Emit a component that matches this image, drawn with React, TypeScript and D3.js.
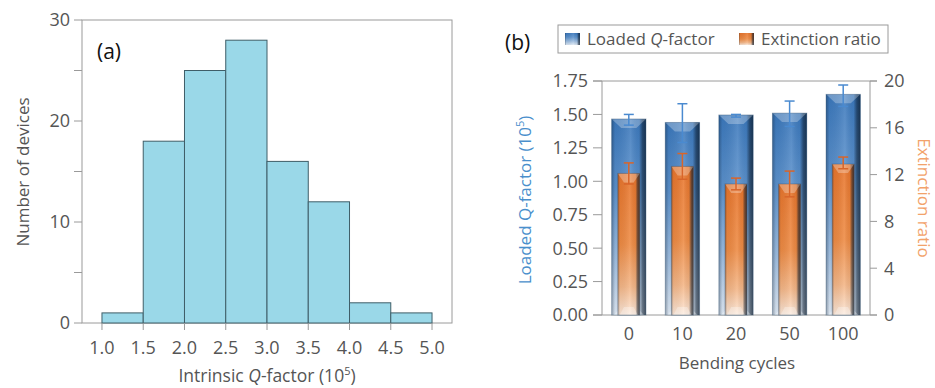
import React, { useRef, useEffect } from "react";
import * as d3 from "d3";

// panel (a): histogram of intrinsic Q-factor
const binEdges = [1.0, 1.5, 2.0, 2.5, 3.0, 3.5, 4.0, 4.5, 5.0];
const binCounts = [1, 18, 25, 28, 16, 12, 2, 1];
const histXTicks = [1.0, 1.5, 2.0, 2.5, 3.0, 3.5, 4.0, 4.5, 5.0];
const histYTicks = [0, 10, 20, 30];
const histYMinor = [5, 15, 25];

// panel (b): bending cycles
const cycles = ["0", "10", "20", "50", "100"];
const loadedQ = [1.466, 1.44, 1.496, 1.51, 1.65];
const loadedQLow = [1.42, 1.29, 1.48, 1.41, 1.56];
const loadedQHigh = [1.5, 1.58, 1.5, 1.6, 1.72];
const extRatio = [12.1, 12.7, 11.2, 11.2, 12.9];
const extRatioLow = [11.2, 11.6, 10.7, 10.1, 12.5];
const extRatioHigh = [13.0, 13.8, 11.7, 12.3, 13.5];
const leftTicks = [0, 0.25, 0.5, 0.75, 1.0, 1.25, 1.5, 1.75];
const rightTicks = [0, 4, 8, 12, 16, 20];

const FONT = "'Open Sans', 'Noto Sans', sans-serif";
const TICK_COLOR = "#555";
const AXIS_COLOR = "#9a9a9a";

const App = () => {
  const svgRef = useRef(null);

  useEffect(() => {
    const svg = d3.select(svgRef.current);
    svg.selectAll("*").remove();
    svg.attr("font-family", FONT);

    /*** gradients ***/
    const defs = svg.append("defs");
    const grad = (id, horizontal, stops) => {
      const g = defs.append("linearGradient").attr("id", id)
        .attr("x1", 0).attr("y1", 0)
        .attr("x2", horizontal ? 1 : 0).attr("y2", horizontal ? 0 : 1);
      stops.forEach(([o, c, op]) =>
        g.append("stop").attr("offset", o).attr("stop-color", c).attr("stop-opacity", op ?? 1));
    };
    grad("blueV", false, [[0, "#3a77bb"], [0.35, "#5a90cb"], [0.7, "#9dbde0"], [1, "#dfe9f4"]]);
    grad("orangeV", false, [[0, "#e8742a"], [0.5, "#ee8a42"], [0.8, "#f4b585"], [1, "#fbe6d6"]]);
    grad("edgeShade", true, [[0, "#0b1a2b", 0.35], [0.1, "#0b1a2b", 0.05], [0.55, "#ffffff", 0.12],
      [0.8, "#0b1a2b", 0.05], [0.9, "#0b1a2b", 0.55], [1, "#0b1a2b", 0.75]]);

    /*** PANEL (a) ***/
    const ax = d3.scaleLinear().domain([0.758, 5.242]).range([82, 452]);
    const ay = d3.scaleLinear().domain([0, 30]).range([323, 20]);
    const a = svg.append("g");

    a.append("rect")
      .attr("x", ax.range()[0]).attr("y", ay(30))
      .attr("width", ax.range()[1] - ax.range()[0]).attr("height", ay(0) - ay(30))
      .attr("fill", "none").attr("stroke", AXIS_COLOR).attr("stroke-width", 1);

    a.selectAll(".hbar")
      .data(binCounts)
      .enter()
      .append("rect")
      .attr("x", (d, i) => ax(binEdges[i]))
      .attr("y", (d) => ay(d))
      .attr("width", (d, i) => ax(binEdges[i + 1]) - ax(binEdges[i]))
      .attr("height", (d) => ay(0) - ay(d))
      .attr("fill", "#9ad8e8")
      .attr("stroke", "#3f5e68")
      .attr("stroke-width", 1);

    // x axis ticks
    a.selectAll(".xt")
      .data(histXTicks)
      .enter()
      .append("line")
      .attr("x1", (d) => ax(d)).attr("x2", (d) => ax(d))
      .attr("y1", ay(0)).attr("y2", ay(0) + 7)
      .attr("stroke", AXIS_COLOR);
    a.selectAll(".xl")
      .data(histXTicks)
      .enter()
      .append("text")
      .attr("x", (d) => ax(d)).attr("y", 354)
      .attr("text-anchor", "middle")
      .attr("font-size", 18).attr("fill", TICK_COLOR)
      .text((d) => d.toFixed(1));

    // y axis ticks
    a.selectAll(".yt")
      .data(histYTicks.concat(histYMinor))
      .enter()
      .append("line")
      .attr("x1", 74).attr("x2", ax.range()[0])
      .attr("y1", (d) => ay(d)).attr("y2", (d) => ay(d))
      .attr("stroke", AXIS_COLOR);
    a.selectAll(".yl")
      .data(histYTicks)
      .enter()
      .append("text")
      .attr("x", 70).attr("y", (d) => ay(d))
      .attr("dy", "0.36em")
      .attr("text-anchor", "end")
      .attr("font-size", 18).attr("fill", TICK_COLOR)
      .text((d) => d);

    a.append("text")
      .attr("transform", "translate(29,172) rotate(-90)")
      .attr("text-anchor", "middle")
      .attr("font-size", 17).attr("fill", TICK_COLOR)
      .text("Number of devices");

    const axTitle = a.append("text")
      .attr("x", 267).attr("y", 382)
      .attr("text-anchor", "middle")
      .attr("font-size", 17.5).attr("fill", TICK_COLOR);
    axTitle.append("tspan").text("Intrinsic ");
    axTitle.append("tspan").attr("font-style", "italic").text("Q");
    axTitle.append("tspan").text("-factor (10");
    axTitle.append("tspan").attr("font-size", 11).attr("dy", -7).text("5");
    axTitle.append("tspan").attr("dy", 7).text(")");

    a.append("text")
      .attr("x", 97).attr("y", 59)
      .attr("font-size", 21).attr("fill", "#111")
      .text("(a)");

    /*** PANEL (b) ***/
    const bx = d3.scaleBand().domain(cycles).range([602, 870]).paddingInner(0.36).paddingOuter(0.18);
    const yL = d3.scaleLinear().domain([0, 1.75]).range([315, 81]);
    const yR = d3.scaleLinear().domain([0, 20]).range([315, 81]);
    const b = svg.append("g");

    // frame
    b.append("line").attr("x1", 593).attr("x2", 877).attr("y1", yL(1.75)).attr("y2", yL(1.75)).attr("stroke", AXIS_COLOR);
    b.append("line").attr("x1", 593).attr("x2", 877).attr("y1", yL(0)).attr("y2", yL(0)).attr("stroke", AXIS_COLOR);
    b.append("line").attr("x1", 602).attr("x2", 602).attr("y1", yL(1.75)).attr("y2", yL(0)).attr("stroke", AXIS_COLOR);
    b.append("line").attr("x1", 870).attr("x2", 870).attr("y1", yL(1.75)).attr("y2", yL(0)).attr("stroke", AXIS_COLOR);

    b.selectAll(".lt")
      .data(leftTicks)
      .enter()
      .append("line")
      .attr("x1", 593).attr("x2", 602)
      .attr("y1", (d) => yL(d)).attr("y2", (d) => yL(d))
      .attr("stroke", AXIS_COLOR);
    b.selectAll(".ll")
      .data(leftTicks)
      .enter()
      .append("text")
      .attr("x", 588).attr("y", (d) => yL(d))
      .attr("dy", "0.36em").attr("text-anchor", "end")
      .attr("font-size", 18).attr("fill", TICK_COLOR)
      .text((d) => d.toFixed(2));

    b.selectAll(".rt")
      .data(rightTicks)
      .enter()
      .append("line")
      .attr("x1", 870).attr("x2", 877)
      .attr("y1", (d) => yR(d)).attr("y2", (d) => yR(d))
      .attr("stroke", AXIS_COLOR);
    b.selectAll(".rl")
      .data(rightTicks)
      .enter()
      .append("text")
      .attr("x", 884).attr("y", (d) => yR(d))
      .attr("dy", "0.36em").attr("text-anchor", "start")
      .attr("font-size", 18).attr("fill", TICK_COLOR)
      .text((d) => d);

    b.selectAll(".cl")
      .data(cycles)
      .enter()
      .append("text")
      .attr("x", (d) => bx(d) + bx.bandwidth() / 2).attr("y", 340)
      .attr("text-anchor", "middle")
      .attr("font-size", 18).attr("fill", TICK_COLOR)
      .text((d) => d);

    // bars
    const bw = bx.bandwidth();
    const ow = bw * 0.64;
    const drawBar = (x, w, yTop, fill) => {
      const h = yL(0) - yTop;
      const g = b.append("g");
      g.append("rect").attr("x", x).attr("y", yTop).attr("width", w).attr("height", h)
        .attr("fill", `url(#${fill})`);
      g.append("rect").attr("x", x).attr("y", yTop).attr("width", w).attr("height", h)
        .attr("fill", "url(#edgeShade)");
      g.append("path")
        .attr("d", `M${x},${yTop} L${x + w},${yTop} L${x + w * 0.72},${yTop + 9} L${x + w * 0.28},${yTop + 9} Z`)
        .attr("fill", "#ffffff").attr("opacity", 0.28);
      g.append("path")
        .attr("d", `M${x + 2},${yTop + h} L${x + w - 2},${yTop + h} L${x + w * 0.72},${yTop + h - 8} L${x + w * 0.28},${yTop + h - 8} Z`)
        .attr("fill", "#ffffff").attr("opacity", 0.3);
      g.append("rect").attr("x", x).attr("y", yTop).attr("width", w).attr("height", h)
        .attr("fill", "none").attr("stroke", "#2a4a6a").attr("stroke-opacity", 0.35).attr("stroke-width", 1);
    };
    const drawErr = (cx, lo, hi, color) => {
      const g = b.append("g").attr("stroke", color).attr("stroke-width", 1.5);
      g.append("line").attr("x1", cx).attr("x2", cx).attr("y1", hi).attr("y2", lo);
      g.append("line").attr("x1", cx - 5).attr("x2", cx + 5).attr("y1", hi).attr("y2", hi);
      g.append("line").attr("x1", cx - 5).attr("x2", cx + 5).attr("y1", lo).attr("y2", lo);
    };

    cycles.forEach((c, i) => {
      drawBar(bx(c), bw, yL(loadedQ[i]), "blueV");
    });
    cycles.forEach((c, i) => {
      const cx = bx(c) + bw / 2;
      drawErr(cx, yL(loadedQLow[i]), yL(loadedQHigh[i]), "#4a8ad0");
      drawBar(cx - ow / 2, ow, yR(extRatio[i]), "orangeV");
      drawErr(cx, yR(extRatioLow[i]), yR(extRatioHigh[i]), "#d8652a");
    });

    // axis titles
    const lt = b.append("text")
      .attr("transform", "translate(531,200) rotate(-90)")
      .attr("text-anchor", "middle")
      .attr("font-size", 17).attr("fill", "#4a8fcc");
    lt.append("tspan").text("Loaded Q-factor (10");
    lt.append("tspan").attr("font-size", 11).attr("dy", -7).text("5");
    lt.append("tspan").attr("dy", 7).text(")");

    b.append("text")
      .attr("transform", "translate(918,198) rotate(90)")
      .attr("text-anchor", "middle")
      .attr("font-size", 17).attr("fill", "#f2a26a")
      .text("Extinction ratio");

    b.append("text")
      .attr("x", 737).attr("y", 369)
      .attr("text-anchor", "middle")
      .attr("font-size", 17).attr("fill", TICK_COLOR)
      .text("Bending cycles");

    b.append("text")
      .attr("x", 505).attr("y", 50)
      .attr("font-size", 21).attr("fill", "#111")
      .text("(b)");

    // legend
    const lg = b.append("g");
    lg.append("rect").attr("x", 558).attr("y", 25).attr("width", 330).attr("height", 28)
      .attr("fill", "#fff").attr("stroke", AXIS_COLOR);
    const legendItems = [
      { label: "Loaded ", q: true, fill: "blueV", x: 565 },
      { label: "Extinction ratio", q: false, fill: "orangeV", x: 739 },
    ];
    legendItems.forEach((it) => {
      lg.append("rect").attr("x", it.x).attr("y", 33).attr("width", 15).attr("height", 12).attr("fill", `url(#${it.fill})`);
      lg.append("rect").attr("x", it.x).attr("y", 33).attr("width", 15).attr("height", 12).attr("fill", "url(#edgeShade)");
      const t = lg.append("text").attr("x", it.x + 22).attr("y", 45)
        .attr("font-size", 17).attr("fill", TICK_COLOR);
      t.append("tspan").text(it.label);
      if (it.q) {
        t.append("tspan").attr("font-style", "italic").text("Q");
        t.append("tspan").text("-factor");
      }
    });
  }, []);

  return (
    <svg
      ref={svgRef}
      width={935}
      height={388}
      style={{ position: "absolute", left: 0, top: 0, background: "#fff" }}
    ></svg>
  );
};

export default App;
